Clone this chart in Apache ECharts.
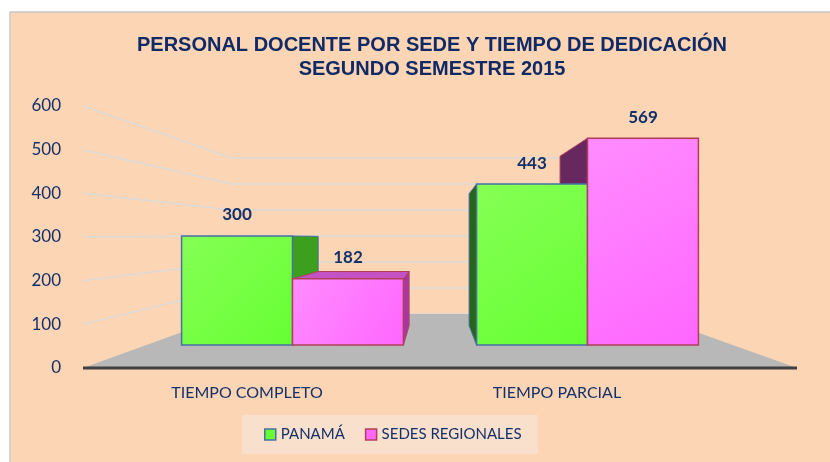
<!DOCTYPE html>
<html>
<head>
<meta charset="utf-8" />
<title>Personal docente por sede</title>
<script src="https://cdn.jsdelivr.net/npm/echarts@6/dist/echarts.min.js"></script>
<style>
  html, body { margin: 0; padding: 0; background: #fff; }
  #main { width: 830px; height: 462px; }
</style>
</head>
<body>
<div id="main"></div>
<script type="text/javascript">
// datos
var categories = ['TIEMPO COMPLETO', 'TIEMPO PARCIAL'];
var panama = [300, 443];
var sedes = [182, 569];
var yMin = 0, yMax = 600, yStep = 100;

var navy = '#14306a';
// falso 3D: punto de fuga y profundidad
var vp = [435, 238];
var depth = 0.18;

function toBack(p) {
  return [p[0] + depth * (vp[0] - p[0]), p[1] + depth * (vp[1] - p[1])];
}

function makeRender(slot, look) {
  return function (params, api) {
    var i = api.value(0), v = api.value(1);
    var band = api.size([1, 0])[0];
    var bw = band * 0.376;
    var c = api.coord([i, v]);
    var b = api.coord([i, 0]);
    var x0 = c[0] + slot * bw, x1 = x0 + bw, yT = c[1], yB = b[1];
    var kids = [];
    function poly(pts, fill) {
      kids.push({
        type: 'polygon', shape: { points: pts },
        style: { fill: fill, stroke: look.stroke, lineWidth: 1 }, z2: look.z
      });
    }
    if (vp[0] > x1) poly([[x1, yT], toBack([x1, yT]), toBack([x1, yB]), [x1, yB]], look.right);
    if (vp[0] < x0) poly([[x0, yT], toBack([x0, yT]), toBack([x0, yB]), [x0, yB]], look.left);
    if (vp[1] < yT) poly([[x0, yT], [x1, yT], toBack([x1, yT]), toBack([x0, yT])], look.top);
    kids.push({
      type: 'rect', shape: { x: x0, y: yT, width: bw, height: yB - yT },
      style: {
        fill: new echarts.graphic.LinearGradient(0, 0, 1, 1, [
          { offset: 0, color: look.light }, { offset: 1, color: look.color }
        ]),
        stroke: look.stroke, lineWidth: 1.5
      },
      z2: 10
    });
    kids.push({
      type: 'text', x: (x0 + x1) / 2, y: yT - 21, z2: 20,
      style: {
        text: String(v), fill: navy, font: 'bold 17px Lato',
        align: 'center', verticalAlign: 'middle'
      }
    });
    return { type: 'group', children: kids };
  };
}

var lookPanama = {
  color: '#66ff33', light: '#86ff55', stroke: '#4a6fa5',
  right: '#3c9f1e', left: '#27661a', top: '#4fcc2a', z: 1
};
var lookSedes = {
  color: '#ff66ff', light: '#ff8cff', stroke: '#b0405a',
  right: '#a8389f', left: '#66285f', top: '#c552c5', z: 2
};

var myChart = echarts.init(document.getElementById('main'));

myChart.setOption({
  animation: false,
  backgroundColor: '#fff',
  title: {
    text: 'PERSONAL DOCENTE POR SEDE Y TIEMPO DE DEDICACIÓN\nSEGUNDO SEMESTRE 2015',
    left: 427, top: 28, textAlign: 'center',
    textStyle: {
      color: '#0f2a66', fontFamily: 'Liberation Sans', fontWeight: 'bold',
      fontSize: 20, lineHeight: 24
    }
  },
  legend: {
    left: 242, top: 415, padding: [12, 16, 12, 22],
    itemWidth: 11, itemHeight: 11, itemGap: 20, icon: 'rect',
    backgroundColor: '#f9e0cc',
    textStyle: { color: navy, fontSize: 15, fontFamily: 'Lato' },
    data: [
      { name: 'PANAMÁ', itemStyle: { color: '#66ff33', borderColor: '#4a6fa5', borderWidth: 1.5 } },
      { name: 'SEDES REGIONALES', itemStyle: { color: '#ff66ff', borderColor: '#b0405a', borderWidth: 1.5 } }
    ]
  },
  grid: [
    // barras (frente)
    { left: 145, right: 95, top: 127, bottom: 117 },
    // ejes visibles (frente del piso)
    { left: 92, right: 118, top: 106, bottom: 94 },
    // pared de fondo
    { left: 232, right: 184, top: 158, bottom: 148 }
  ],
  xAxis: [
    { type: 'category', gridIndex: 0, data: categories, show: false },
    {
      type: 'category', gridIndex: 1, data: categories,
      axisLine: { show: false }, axisTick: { show: false },
      axisLabel: { color: navy, fontSize: 16, fontFamily: 'Lato', margin: 17 }
    },
    { type: 'category', gridIndex: 2, data: categories, show: false }
  ],
  yAxis: [
    { type: 'value', gridIndex: 0, min: yMin, max: yMax, interval: yStep, show: false },
    {
      type: 'value', gridIndex: 1, min: yMin, max: yMax, interval: yStep,
      axisLine: { show: false }, axisTick: { show: false }, splitLine: { show: false },
      axisLabel: { color: navy, fontSize: 17, fontFamily: 'Lato', margin: 31 }
    },
    {
      type: 'value', gridIndex: 2, min: yMin, max: yMax, interval: yStep,
      axisLine: { show: false }, axisTick: { show: false }, axisLabel: { show: false },
      splitLine: { lineStyle: { color: '#dcdad6', width: 1.5 } }
    }
  ],
  series: [
    {
      name: 'PANAMÁ', type: 'custom', xAxisIndex: 0, yAxisIndex: 0,
      itemStyle: { color: '#66ff33' },
      renderItem: makeRender(-1, lookPanama),
      data: panama.map(function (v, i) { return [i, v]; })
    },
    {
      name: 'SEDES REGIONALES', type: 'custom', xAxisIndex: 0, yAxisIndex: 0,
      itemStyle: { color: '#ff66ff' },
      renderItem: makeRender(0, lookSedes),
      data: sedes.map(function (v, i) { return [i, v]; })
    }
  ]
});

// piso y lineas inclinadas, a partir de las escalas
var leftX = 83, rightX = 797;
var backLeftX = 232, backRightX = 646;
var front0 = myChart.convertToPixel({ yAxisIndex: 1 }, 0);
var back0 = myChart.convertToPixel({ yAxisIndex: 2 }, 0);
var graphics = [
  {
    type: 'rect', z: -10, shape: { x: 10, y: 12, width: 830, height: 460 },
    style: { fill: '#fcd5b4', stroke: '#c8c8c8', lineWidth: 1.5 }
  },
  {
    type: 'polygon', z: 1,
    shape: { points: [[leftX, front0], [rightX, front0], [backRightX, back0], [backLeftX, back0]] },
    style: { fill: '#b8b8b8' }
  },
  {
    type: 'line', z: 1,
    shape: { x1: leftX, y1: front0, x2: rightX, y2: front0 },
    style: { stroke: '#404040', lineWidth: 3 }
  }
];
for (var t = yMin + yStep; t <= yMax; t += yStep) {
  graphics.push({
    type: 'line', z: 0,
    shape: {
      x1: leftX, y1: myChart.convertToPixel({ yAxisIndex: 1 }, t),
      x2: backLeftX, y2: myChart.convertToPixel({ yAxisIndex: 2 }, t)
    },
    style: { stroke: '#dcdad6', lineWidth: 1.5 }
  });
}
myChart.setOption({ graphic: graphics });
</script>
</body>
</html>
